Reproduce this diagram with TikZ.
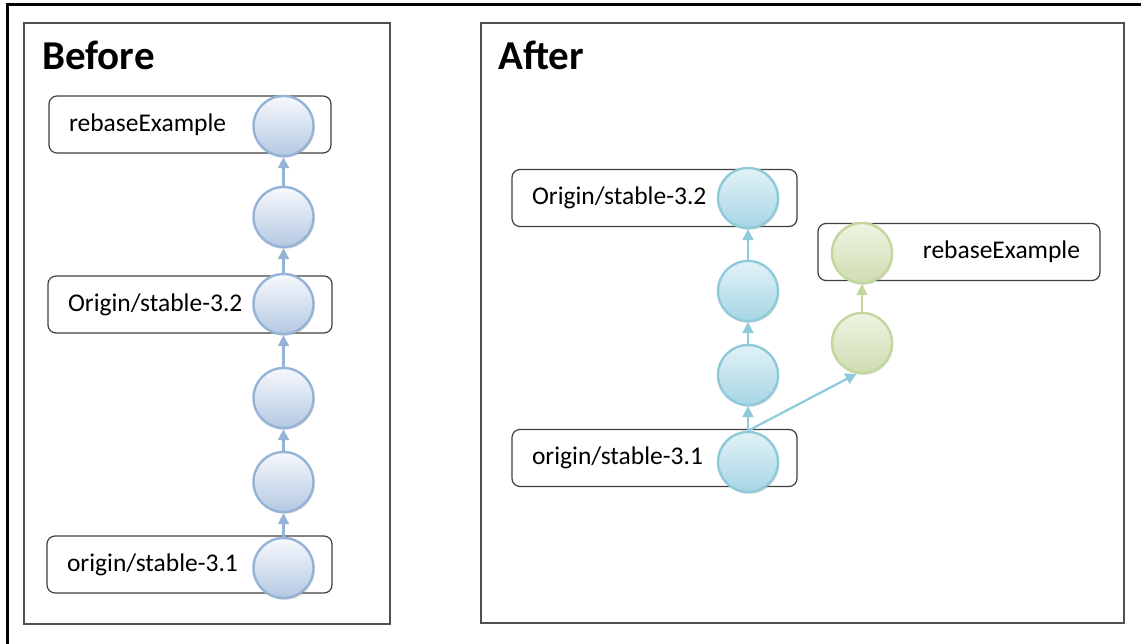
\documentclass[tikz,border=0pt]{standalone}
\usepackage{fontspec}
\setmainfont{Carlito}
\usetikzlibrary{arrows.meta,shadows}
\definecolor{frameGray}{HTML}{505050}
\definecolor{boxGray}{HTML}{404040}
\definecolor{bBorder}{HTML}{95B3D7}
\definecolor{bTop}{HTML}{F7F9FD}
\definecolor{bBot}{HTML}{B4C8E2}
\definecolor{aBorder}{HTML}{8FCADB}
\definecolor{aLight}{HTML}{E2F2F7}
\definecolor{aDark}{HTML}{A6D6E4}
\definecolor{gBorder}{HTML}{C3D69B}
\definecolor{gLight}{HTML}{EEF4E2}
\definecolor{gDark}{HTML}{CFDDB2}
\tikzset{
  panel/.style={draw=frameGray, line width=1.5pt},
  title/.style={font=\fontsize{41}{43}\selectfont\bfseries, anchor=base west, inner sep=0pt},
  lbl/.style={draw=boxGray, line width=1.2pt, rounded corners=8pt, minimum height=57pt, inner xsep=20pt, inner ysep=0pt, font=\fontsize{25.5}{27}\selectfont, align=left},
  commit/.style={circle, minimum size=60pt, inner sep=0pt, line width=2.4pt,
    drop shadow={shadow xshift=1.2pt, shadow yshift=-1.8pt, opacity=0.25, fill=black!60}},
  bc/.style={commit, draw=bBorder, top color=bTop, bottom color=bBot},
  ac/.style={commit, draw=aBorder, shading angle=135, top color=aLight, bottom color=aDark},
  gc/.style={commit, draw=gBorder, shading angle=135, top color=gLight, bottom color=gDark},
  barr/.style={draw=bBorder, line width=2.2pt, -{Triangle[length=11pt,width=11pt]}},
  aarr/.style={draw=aBorder, line width=2.2pt, -{Triangle[length=11pt,width=11pt]}},
  garr/.style={draw=gBorder, line width=2.2pt, -{Triangle[length=11pt,width=11pt]}},
}
\begin{document}
\begin{tikzpicture}[x=1pt,y=-1pt]
\useasboundingbox (0,0) rectangle (1141,644);
\fill[white] (0,0) rectangle (1141,644);
% outer frame (top and left edges)
\draw[line width=3pt, black] (7,650) -- (7,5) -- (1150,5);
% panels
\draw[panel] (24,23) rectangle (390,624);
\draw[panel] (481,23) rectangle (1124,623);
\node[title] (tb) at (42,70) {Before};
\node[title] (ta) at (498,70) {After};

% Before
\node[lbl, text width=242pt] (lb1) at (190,124.5) {rebaseExample};
\node[lbl, text width=244pt] (lb3) at (190,304.5) {Origin/stable-3.2};
\node[lbl, text width=245pt] (lb6) at (189.5,564.5) {origin/stable-3.1};
\node[bc] (b1) at (283.5,126) {};
\node[bc] (b2) at (283.5,217) {};
\node[bc] (b3) at (283.5,304) {};
\node[bc] (b4) at (283.5,398) {};
\node[bc] (b5) at (283.5,482) {};
\node[bc] (b6) at (283.5,568) {};
\draw[barr] (b2) -- (b1);
\draw[barr] (b3) -- (b2);
\draw[barr] (b4) -- (b3);
\draw[barr] (b5) -- (b4);
\draw[barr] (b6) -- (b5);

% After
\node[lbl, text width=245pt] (la1) at (654.5,198) {Origin/stable-3.2};
\node[lbl, text width=245pt] (la4) at (654.5,458) {origin/stable-3.1};
\node[lbl, text width=242pt, align=right] (lg1) at (959,252) {rebaseExample};
\node[ac] (a1) at (748,198) {};
\node[ac] (a2) at (748,291) {};
\node[ac] (a3) at (748,375) {};
\node[ac] (a4) at (748,462) {};
\node[gc] (g1) at (862,253) {};
\node[gc] (g2) at (862,343) {};
\draw[aarr] (a2) -- (a1);
\draw[aarr] (a3) -- (a2);
\draw[aarr] (a4) -- (a3);
\draw[aarr] (a4.north) -- (g2.-100);
\draw[garr] (g2) -- (g1);
\end{tikzpicture}
\end{document}
